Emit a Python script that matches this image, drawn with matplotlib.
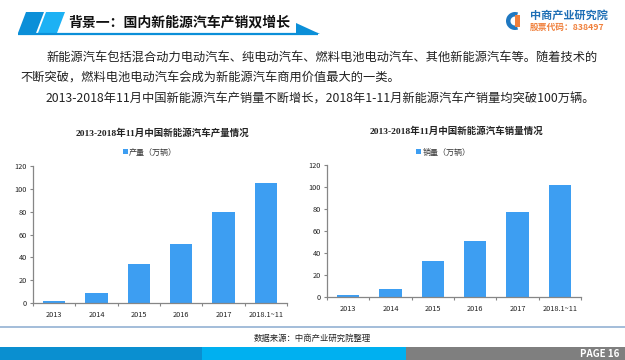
# --------------------------- NEV PRODUCTION / SALES SLIDE ---------------------------

import matplotlib
matplotlib.use('Agg')
import matplotlib.pyplot as plt
from matplotlib.patches import Polygon, Rectangle, Wedge

# --------------------------- DATA ---------------------------

years = ['2013', '2014', '2015', '2016', '2017', '2018.1~11']
production = [1.8, 8.4, 34.0, 51.7, 79.4, 105.4]      # [10k vehicles]
sales = [1.8, 7.5, 33.1, 50.7, 77.7, 102.1]           # [10k vehicles]
y_ticks = [0, 20, 40, 60, 80, 100, 120]

header_title = '背景一：国内新能源汽车产销双增长'
para_lines = ['新能源汽车包括混合动力电动汽车、纯电动汽车、燃料电池电动汽车、其他新能源汽车等。随着技术的',
              '不断突破，燃料电池电动汽车会成为新能源汽车商用价值最大的一类。',
              '2013-2018年11月中国新能源汽车产销量不断增长，2018年1-11月新能源汽车产销量均突破100万辆。']
prod_title = '2013-2018年11月中国新能源汽车产量情况'
sales_title = '2013-2018年11月中国新能源汽车销量情况'
prod_label = '产量（万辆）'
sales_label = '销量（万辆）'
source_text = '数据来源：中商产业研究院整理'

# --------------------------- STYLE ---------------------------

plt.rcParams['font.family'] = ['Noto Sans CJK SC', 'DejaVu Sans']
bar_color = '#3d9ef2'
axis_color = '#868686'
W, H = 625, 360

fig = plt.figure(figsize=(6.25, 3.6), dpi=100)

# Background axes in pixel coordinates for the slide decorations.
bg = fig.add_axes([0, 0, 1, 1])
bg.set_xlim(0, W); bg.set_ylim(H, 0); bg.axis('off')

# Header shapes.
bg.add_patch(Polygon([(18, 33), (36, 33), (44, 12), (26, 12)], closed=True, color='#0b8fd8', lw=0))
bg.add_patch(Polygon([(38, 33), (57, 33), (65, 12), (46, 12)], closed=True, color='#1db1f4', lw=0))
bg.plot([18, 318], [33.5, 33.5], color='#0b8fd8', lw=1.6, solid_capstyle='butt')
bg.add_patch(Polygon([(296, 23), (296, 34), (320, 34)], closed=True, color='#0b8fd8', lw=0))
bg.text(68, 23, header_title, fontsize=10, fontweight='bold', color='#111111', va='center', ha='left')

# Logo.
bg.add_patch(Wedge((515, 21), 9, 70, 290, width=4.5, color='#1f78c1', lw=0))
bg.add_patch(Rectangle((515, 15), 4.5, 12, color='#f07f3c', lw=0))
bg.text(530, 15.5, '中商产业研究院', fontsize=8, fontweight='bold', color='#1f6fb5', va='center', ha='left')
bg.text(530, 27.5, '股票代码：838497', fontsize=6.3, fontweight='bold', color='#f0803c', va='center', ha='left')

# Paragraph text.
bg.text(46, 57, para_lines[0], fontsize=8.8, color='#222222', va='center', ha='left')
bg.text(20, 78, para_lines[1], fontsize=8.8, color='#222222', va='center', ha='left')
bg.text(46, 99, para_lines[2], fontsize=8.8, color='#222222', va='center', ha='left')

# Footer.
bg.plot([0, W], [327, 327], color='#93b2d3', lw=1.2)
bg.text(312, 338, source_text, fontsize=6.0, color='#222222', va='center', ha='center')
bg.add_patch(Rectangle((0, 347), 202, 13, color='#0a8fd0', lw=0))
bg.add_patch(Rectangle((202, 347), 204, 13, color='#00b0f0', lw=0))
bg.add_patch(Rectangle((406, 347), 219, 13, color='#7f7f7f', lw=0))
bg.text(619, 354, 'PAGE 16', fontsize=7, fontweight='bold', color='white', va='center', ha='right')

# --------------------------- CHARTS ---------------------------

def draw_chart(rect, values, title, title_xy, label, legend_xy):
    ax = fig.add_axes(rect)
    x = list(range(len(years)))
    ax.bar(x, values, width=0.52, color=bar_color, label=label, zorder=2)
    ax.set_xlim(-0.5, len(years) - 0.5)
    ax.set_ylim(0, 120)
    ax.set_yticks(y_ticks)
    ax.set_xticks(x)
    ax.set_xticklabels(years)
    ax.set_xticks([i - 0.5 for i in range(len(years) + 1)], minor=True)
    ax.tick_params(axis='x', which='major', length=0, labelsize=5.3, pad=6, colors='#222222')
    ax.tick_params(axis='x', which='minor', length=2.5, width=0.8, color=axis_color)
    ax.tick_params(axis='y', length=2.5, width=0.8, color=axis_color, labelsize=5.3, labelcolor='#222222', pad=2)
    for s in ['top', 'right']:
        ax.spines[s].set_visible(False)
    for s in ['left', 'bottom']:
        ax.spines[s].set_color(axis_color)
        ax.spines[s].set_linewidth(0.9)
    ax.patch.set_alpha(0)
    fig.text(title_xy[0] / W, 1 - title_xy[1] / H, title, fontsize=6.8, fontweight='bold',
             family=['Liberation Serif', 'Noto Sans CJK SC'], color='#222222', ha='center', va='center')
    ax.legend(loc='center', bbox_to_anchor=(legend_xy[0] / W, 1 - legend_xy[1] / H),
              bbox_transform=fig.transFigure, frameon=False, fontsize=5.8,
              handlelength=0.6, handleheight=0.6, handletextpad=0.2, labelcolor='#333333')
    return ax

draw_chart([33 / W, 1 - 303 / H, 254 / W, 137 / H], production, prod_title, (162, 133), prod_label, (150, 152))
draw_chart([327 / W, 1 - 297 / H, 254 / W, 132 / H], sales, sales_title, (456, 131), sales_label, (443, 152))

fig.savefig('out.png', dpi=100)
